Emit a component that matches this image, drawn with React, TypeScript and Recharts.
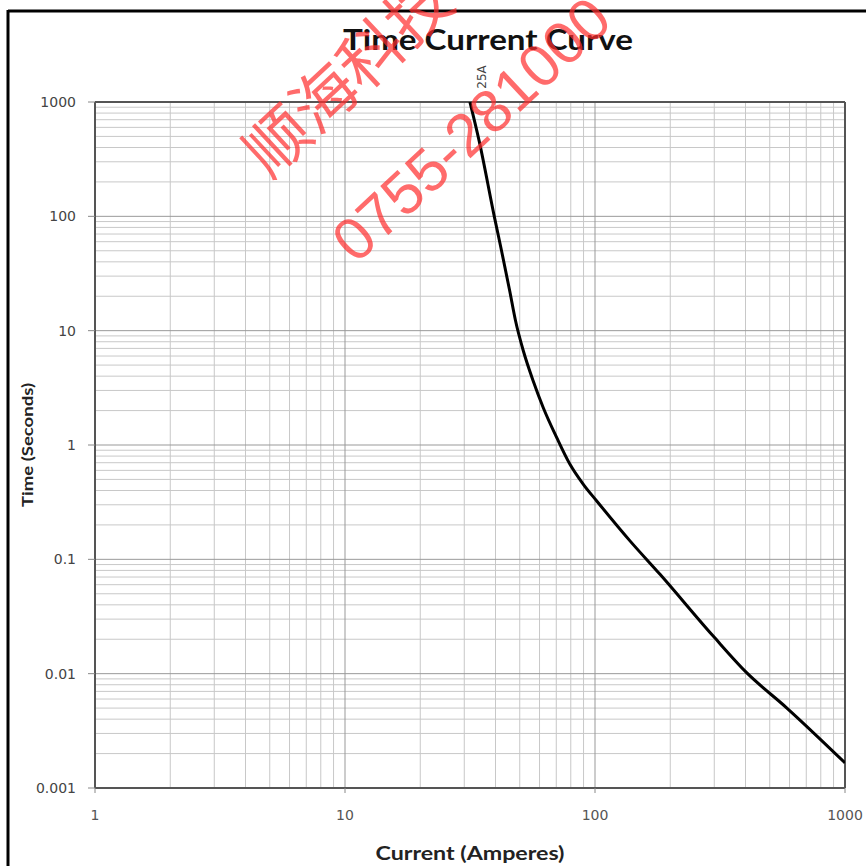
import React from 'react';
import { LineChart, Line, XAxis, YAxis, ReferenceLine } from 'recharts';

// Fuse time-current characteristic (25A)
const currentAmps = [31.6, 34.4, 39.6, 42.3, 45.6, 48.1, 51.7, 56.6, 62.1, 70.3, 79.4, 89.8, 101.6, 138, 182, 297, 404, 584, 1000];
const timeSeconds = [1000, 457, 98.5, 49.8, 22.2, 12.2, 6.64, 3.63, 2.12, 1.16, 0.678, 0.453, 0.324, 0.145, 0.0739, 0.0213, 0.0102, 0.00503, 0.00166];

const xTicks = [1, 10, 100, 1000];
const yTicks = [0.001, 0.01, 0.1, 1, 10, 100, 1000];
const minorMultipliers = [2, 3, 4, 5, 6, 7, 8, 9];

const chartTitle = 'Time Current Curve';
const xLabel = 'Current  (Amperes)';
const yLabel = 'Time (Seconds)';
const seriesLabel = '25A';
const watermarkLine1 = '顺海科技';
const watermarkLine2 = '0755-281000';

const data = currentAmps.map((c, i) => ({ current: c, time: timeSeconds[i] }));
const xMinor = xTicks.slice(0, -1).flatMap((d) => minorMultipliers.map((m) => +(d * m).toPrecision(3)));
const yMinor = yTicks.slice(0, -1).flatMap((d) => minorMultipliers.map((m) => +(d * m).toPrecision(3)));

const fmt = (v: number) => String(v);

export default function App() {
  return (
    <div style={{ position: 'absolute', left: 0, top: 0, width: 866, height: 866, background: '#fff', overflow: 'hidden' }}>
      <LineChart width={866} height={866} data={data} margin={{ top: 102, right: 21, bottom: 38, left: 15 }}>
        <XAxis
          dataKey="current"
          type="number"
          scale="log"
          domain={[1, 1000]}
          ticks={xTicks}
          interval={0}
          allowDataOverflow
          height={40}
          tickSize={5}
          tickMargin={17}
          axisLine={false}
          tickLine={{ stroke: '#888' }}
          tickFormatter={fmt}
          tick={{ fontSize: 14, fill: '#555', fontFamily: 'DejaVu Sans' }}
        />
        <YAxis
          dataKey="time"
          type="number"
          scale="log"
          domain={[0.001, 1000]}
          ticks={yTicks}
          interval={0}
          allowDataOverflow
          width={80}
          tickSize={7}
          tickMargin={12}
          axisLine={false}
          tickLine={{ stroke: '#888' }}
          tickFormatter={fmt}
          tick={{ fontSize: 14, fill: '#444', fontFamily: 'DejaVu Sans' }}
        />
        {xMinor.map((v) => (
          <ReferenceLine key={'xm' + v} x={v} stroke="#c8c8c8" strokeWidth={1} />
        ))}
        {yMinor.map((v) => (
          <ReferenceLine key={'ym' + v} y={v} stroke="#c8c8c8" strokeWidth={1} />
        ))}
        {xTicks.map((v) => (
          <ReferenceLine key={'xM' + v} x={v} stroke="#999" strokeWidth={1} />
        ))}
        {yTicks.map((v) => (
          <ReferenceLine key={'yM' + v} y={v} stroke="#999" strokeWidth={1} />
        ))}
        <ReferenceLine x={1} stroke="#555" strokeWidth={2} />
        <ReferenceLine x={1000} stroke="#555" strokeWidth={2} />
        <ReferenceLine y={0.001} stroke="#555" strokeWidth={2} />
        <ReferenceLine y={1000} stroke="#555" strokeWidth={2} />
        <Line
          type="monotone"
          dataKey="time"
          stroke="#000"
          strokeWidth={3}
          dot={false}
          isAnimationActive={false}
        />
      </LineChart>
      <svg
        width={866}
        height={866}
        style={{ position: 'absolute', left: 0, top: 0, pointerEvents: 'none' }}
      >
        <line x1={8} y1={11} x2={866} y2={11} stroke="#000" strokeWidth={3} />
        <line x1={8} y1={10} x2={8} y2={866} stroke="#000" strokeWidth={3} />
        <text
          x={488}
          y={50}
          textAnchor="middle"
          fontFamily="Lato"
          fontWeight={700}
          fontSize={29}
          fill="#111"
          textLength={290}
          lengthAdjust="spacingAndGlyphs"
        >
          {chartTitle}
        </text>
        <text
          x={470}
          y={860}
          textAnchor="middle"
          fontFamily="Lato"
          fontWeight={700}
          fontSize={18}
          fill="#222"
          textLength={189}
          lengthAdjust="spacingAndGlyphs"
        >
          {xLabel}
        </text>
        <text
          x={0}
          y={0}
          transform="translate(33,445) rotate(-90)"
          textAnchor="middle"
          fontFamily="Lato"
          fontWeight={700}
          fontSize={16}
          fill="#222"
          textLength={124}
          lengthAdjust="spacingAndGlyphs"
        >
          {yLabel}
        </text>
        <text
          x={0}
          y={0}
          transform="translate(486,77) rotate(-90)"
          textAnchor="middle"
          fontFamily="DejaVu Sans"
          fontSize={12}
          fill="#444"
        >
          {seriesLabel}
        </text>
        <g opacity={0.7} fill="rgb(255,45,45)">
          <text
            x={0}
            y={0}
            transform="translate(270,180) rotate(-43)"
            fontFamily="Noto Sans CJK SC"
            fontSize={64}
          >
            {watermarkLine1}
          </text>
          <text
            x={0}
            y={0}
            transform="translate(356,265) rotate(-43)"
            fontFamily="Liberation Sans"
            fontSize={60}
          >
            {watermarkLine2}
          </text>
        </g>
      </svg>
    </div>
  );
}
